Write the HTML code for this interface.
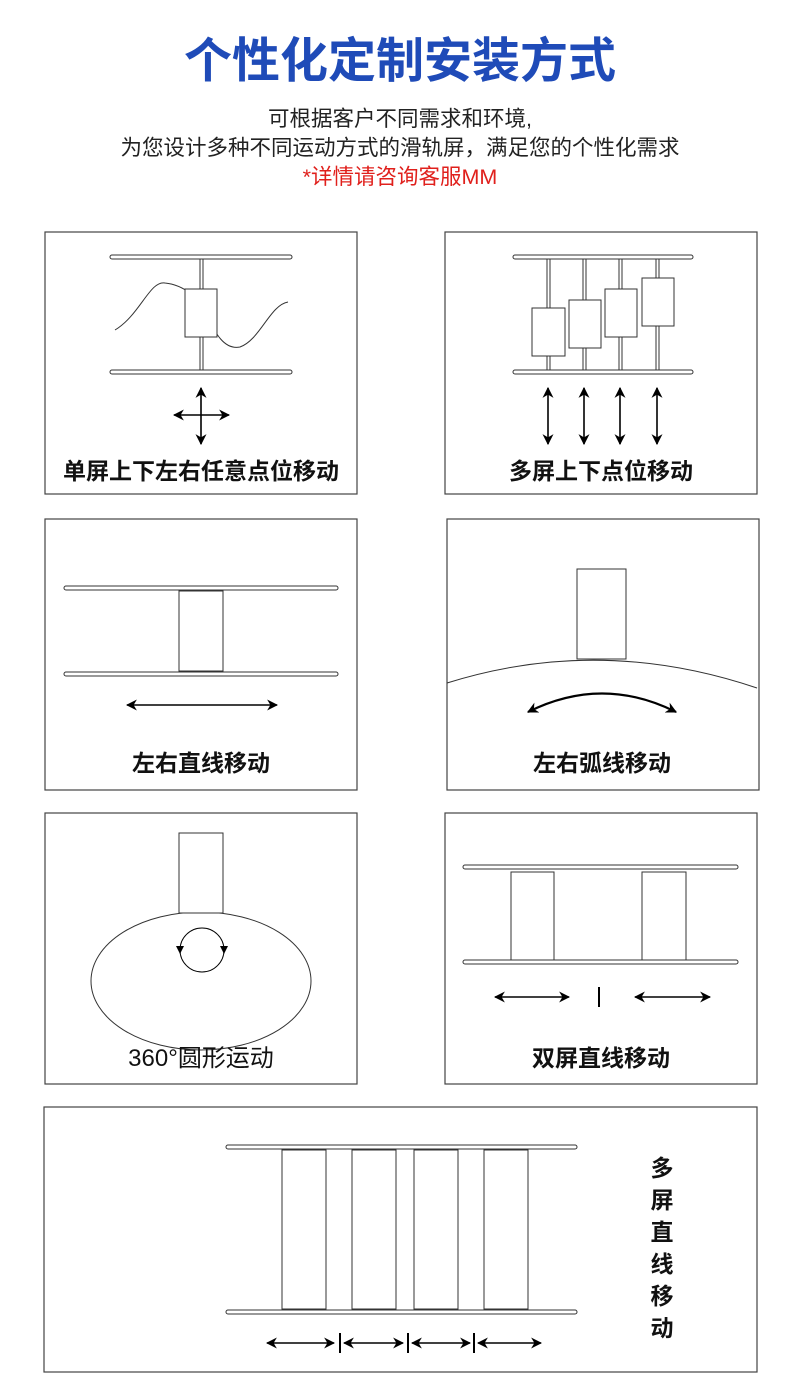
<!DOCTYPE html>
<html><head><meta charset="utf-8"><style>
html,body{margin:0;padding:0;background:#fff;}
svg{display:block;}
text{font-family:"Liberation Sans","Noto Sans CJK SC",sans-serif;}
</style></head><body>
<svg width="800" height="1391" viewBox="0 0 800 1391" xmlns="http://www.w3.org/2000/svg">
<defs>
<marker id="a" viewBox="0 0 10 10" refX="9" refY="5" markerWidth="11" markerHeight="11" markerUnits="userSpaceOnUse" orient="auto-start-reverse"><path d="M0,0 L10,5 L0,10 L3,5 Z" fill="#000"/></marker>
</defs>
<rect width="800" height="1391" fill="#fff"/>
<text x="400" y="77" text-anchor="middle" font-size="48" font-weight="bold" fill="#1f4bb8">个性化定制安装方式</text>
<text x="400" y="126" text-anchor="middle" font-size="21.5" fill="#222">可根据客户不同需求和环境,</text>
<text x="400" y="155" text-anchor="middle" font-size="21.5" fill="#222">为您设计多种不同运动方式的滑轨屏，满足您的个性化需求</text>
<text x="400" y="184" text-anchor="middle" font-size="21.5" fill="#e0201c">*详情请咨询客服MM</text>

<g fill="none" stroke="#444" stroke-width="1.2">
<rect x="45" y="232" width="312" height="262"/>
<rect x="445" y="232" width="312" height="262"/>
<rect x="45" y="519" width="312" height="271"/>
<rect x="447" y="519" width="312" height="271"/>
<rect x="45" y="813" width="312" height="271"/>
<rect x="445" y="813" width="312" height="271"/>
<rect x="44" y="1107" width="713" height="265"/>
</g>

<g fill="#fff" stroke="#333" stroke-width="1">
<rect x="110" y="255" width="182" height="4" rx="2"/>
<rect x="110" y="370" width="182" height="4" rx="2"/>
<rect x="200" y="259" width="3" height="111"/>
<path d="M115,330 C140,315 150,280 165,283 C185,285 200,300 205,310 C215,335 225,350 240,347 C260,340 270,305 288,302" fill="none"/>
<rect x="185" y="289" width="32" height="48"/>
<rect x="513" y="255" width="180" height="4" rx="2"/>
<rect x="513" y="370" width="180" height="4" rx="2"/>
<rect x="547" y="259" width="3" height="111"/>
<rect x="583" y="259" width="3" height="111"/>
<rect x="619" y="259" width="3" height="111"/>
<rect x="656" y="259" width="3" height="111"/>
<rect x="532" y="308" width="33" height="48"/>
<rect x="569" y="300" width="32" height="48"/>
<rect x="605" y="289" width="32" height="48"/>
<rect x="642" y="278" width="32" height="48"/>
<rect x="64" y="586" width="274" height="4" rx="2"/>
<rect x="64" y="672" width="274" height="4" rx="2"/>
<rect x="179" y="591" width="44" height="80"/>
<path d="M447,683 Q600,635 757,688" fill="none"/>
<rect x="577" y="569" width="49" height="90"/>
<ellipse cx="201" cy="981" rx="110" ry="69" fill="none"/>
<rect x="179" y="833" width="44" height="80"/>
<rect x="463" y="865" width="275" height="4" rx="2"/>
<rect x="463" y="960" width="275" height="4" rx="2"/>
<rect x="511" y="872" width="43" height="88"/>
<rect x="642" y="872" width="44" height="88"/>
<rect x="226" y="1145" width="351" height="4" rx="2"/>
<rect x="226" y="1310" width="351" height="4" rx="2"/>
<rect x="282" y="1150" width="44" height="159"/>
<rect x="352" y="1150" width="44" height="159"/>
<rect x="414" y="1150" width="44" height="159"/>
<rect x="484" y="1150" width="44" height="159"/>
</g>

<g stroke="#000" stroke-width="1.6" fill="none">
<line x1="174" y1="415" x2="229" y2="415" marker-start="url(#a)" marker-end="url(#a)"/>
<line x1="201" y1="388" x2="201" y2="444" marker-start="url(#a)" marker-end="url(#a)"/>
<line x1="548" y1="388" x2="548" y2="444" marker-start="url(#a)" marker-end="url(#a)"/>
<line x1="584" y1="388" x2="584" y2="444" marker-start="url(#a)" marker-end="url(#a)"/>
<line x1="620" y1="388" x2="620" y2="444" marker-start="url(#a)" marker-end="url(#a)"/>
<line x1="657" y1="388" x2="657" y2="444" marker-start="url(#a)" marker-end="url(#a)"/>
<line x1="127" y1="705" x2="277" y2="705" marker-start="url(#a)" marker-end="url(#a)"/>
<path d="M528,712 Q602,675 676,712" stroke-width="2.2" marker-start="url(#a)" marker-end="url(#a)"/>
<circle cx="202" cy="950" r="22" stroke-width="1"/>
<line x1="495" y1="997" x2="569" y2="997" marker-start="url(#a)" marker-end="url(#a)"/>
<line x1="635" y1="997" x2="710" y2="997" marker-start="url(#a)" marker-end="url(#a)"/>
<line x1="599" y1="987" x2="599" y2="1007" stroke-width="2"/>
<line x1="267" y1="1343" x2="334" y2="1343" marker-start="url(#a)" marker-end="url(#a)"/>
<line x1="344" y1="1343" x2="403" y2="1343" marker-start="url(#a)" marker-end="url(#a)"/>
<line x1="412" y1="1343" x2="470" y2="1343" marker-start="url(#a)" marker-end="url(#a)"/>
<line x1="478" y1="1343" x2="541" y2="1343" marker-start="url(#a)" marker-end="url(#a)"/>
<line x1="340" y1="1333" x2="340" y2="1353" stroke-width="2"/>
<line x1="408" y1="1333" x2="408" y2="1353" stroke-width="2"/>
<line x1="474" y1="1333" x2="474" y2="1353" stroke-width="2"/>
</g>
<path d="M176,946 L180,954 L184,946 Z M220,946 L224,954 L228,946 Z" fill="#000"/>

<g font-size="23" font-weight="bold" fill="#111" text-anchor="middle">
<text x="201" y="479">单屏上下左右任意点位移动</text>
<text x="601" y="479">多屏上下点位移动</text>
<text x="201" y="771">左右直线移动</text>
<text x="602" y="771">左右弧线移动</text>
<text x="201" y="1066" font-size="24" font-weight="normal">360°圆形运动</text>
<text x="601" y="1066">双屏直线移动</text>
<text x="662" y="1176">多</text>
<text x="662" y="1208">屏</text>
<text x="662" y="1240">直</text>
<text x="662" y="1272">线</text>
<text x="662" y="1304">移</text>
<text x="662" y="1336">动</text>
</g>
</svg>
</body></html>
